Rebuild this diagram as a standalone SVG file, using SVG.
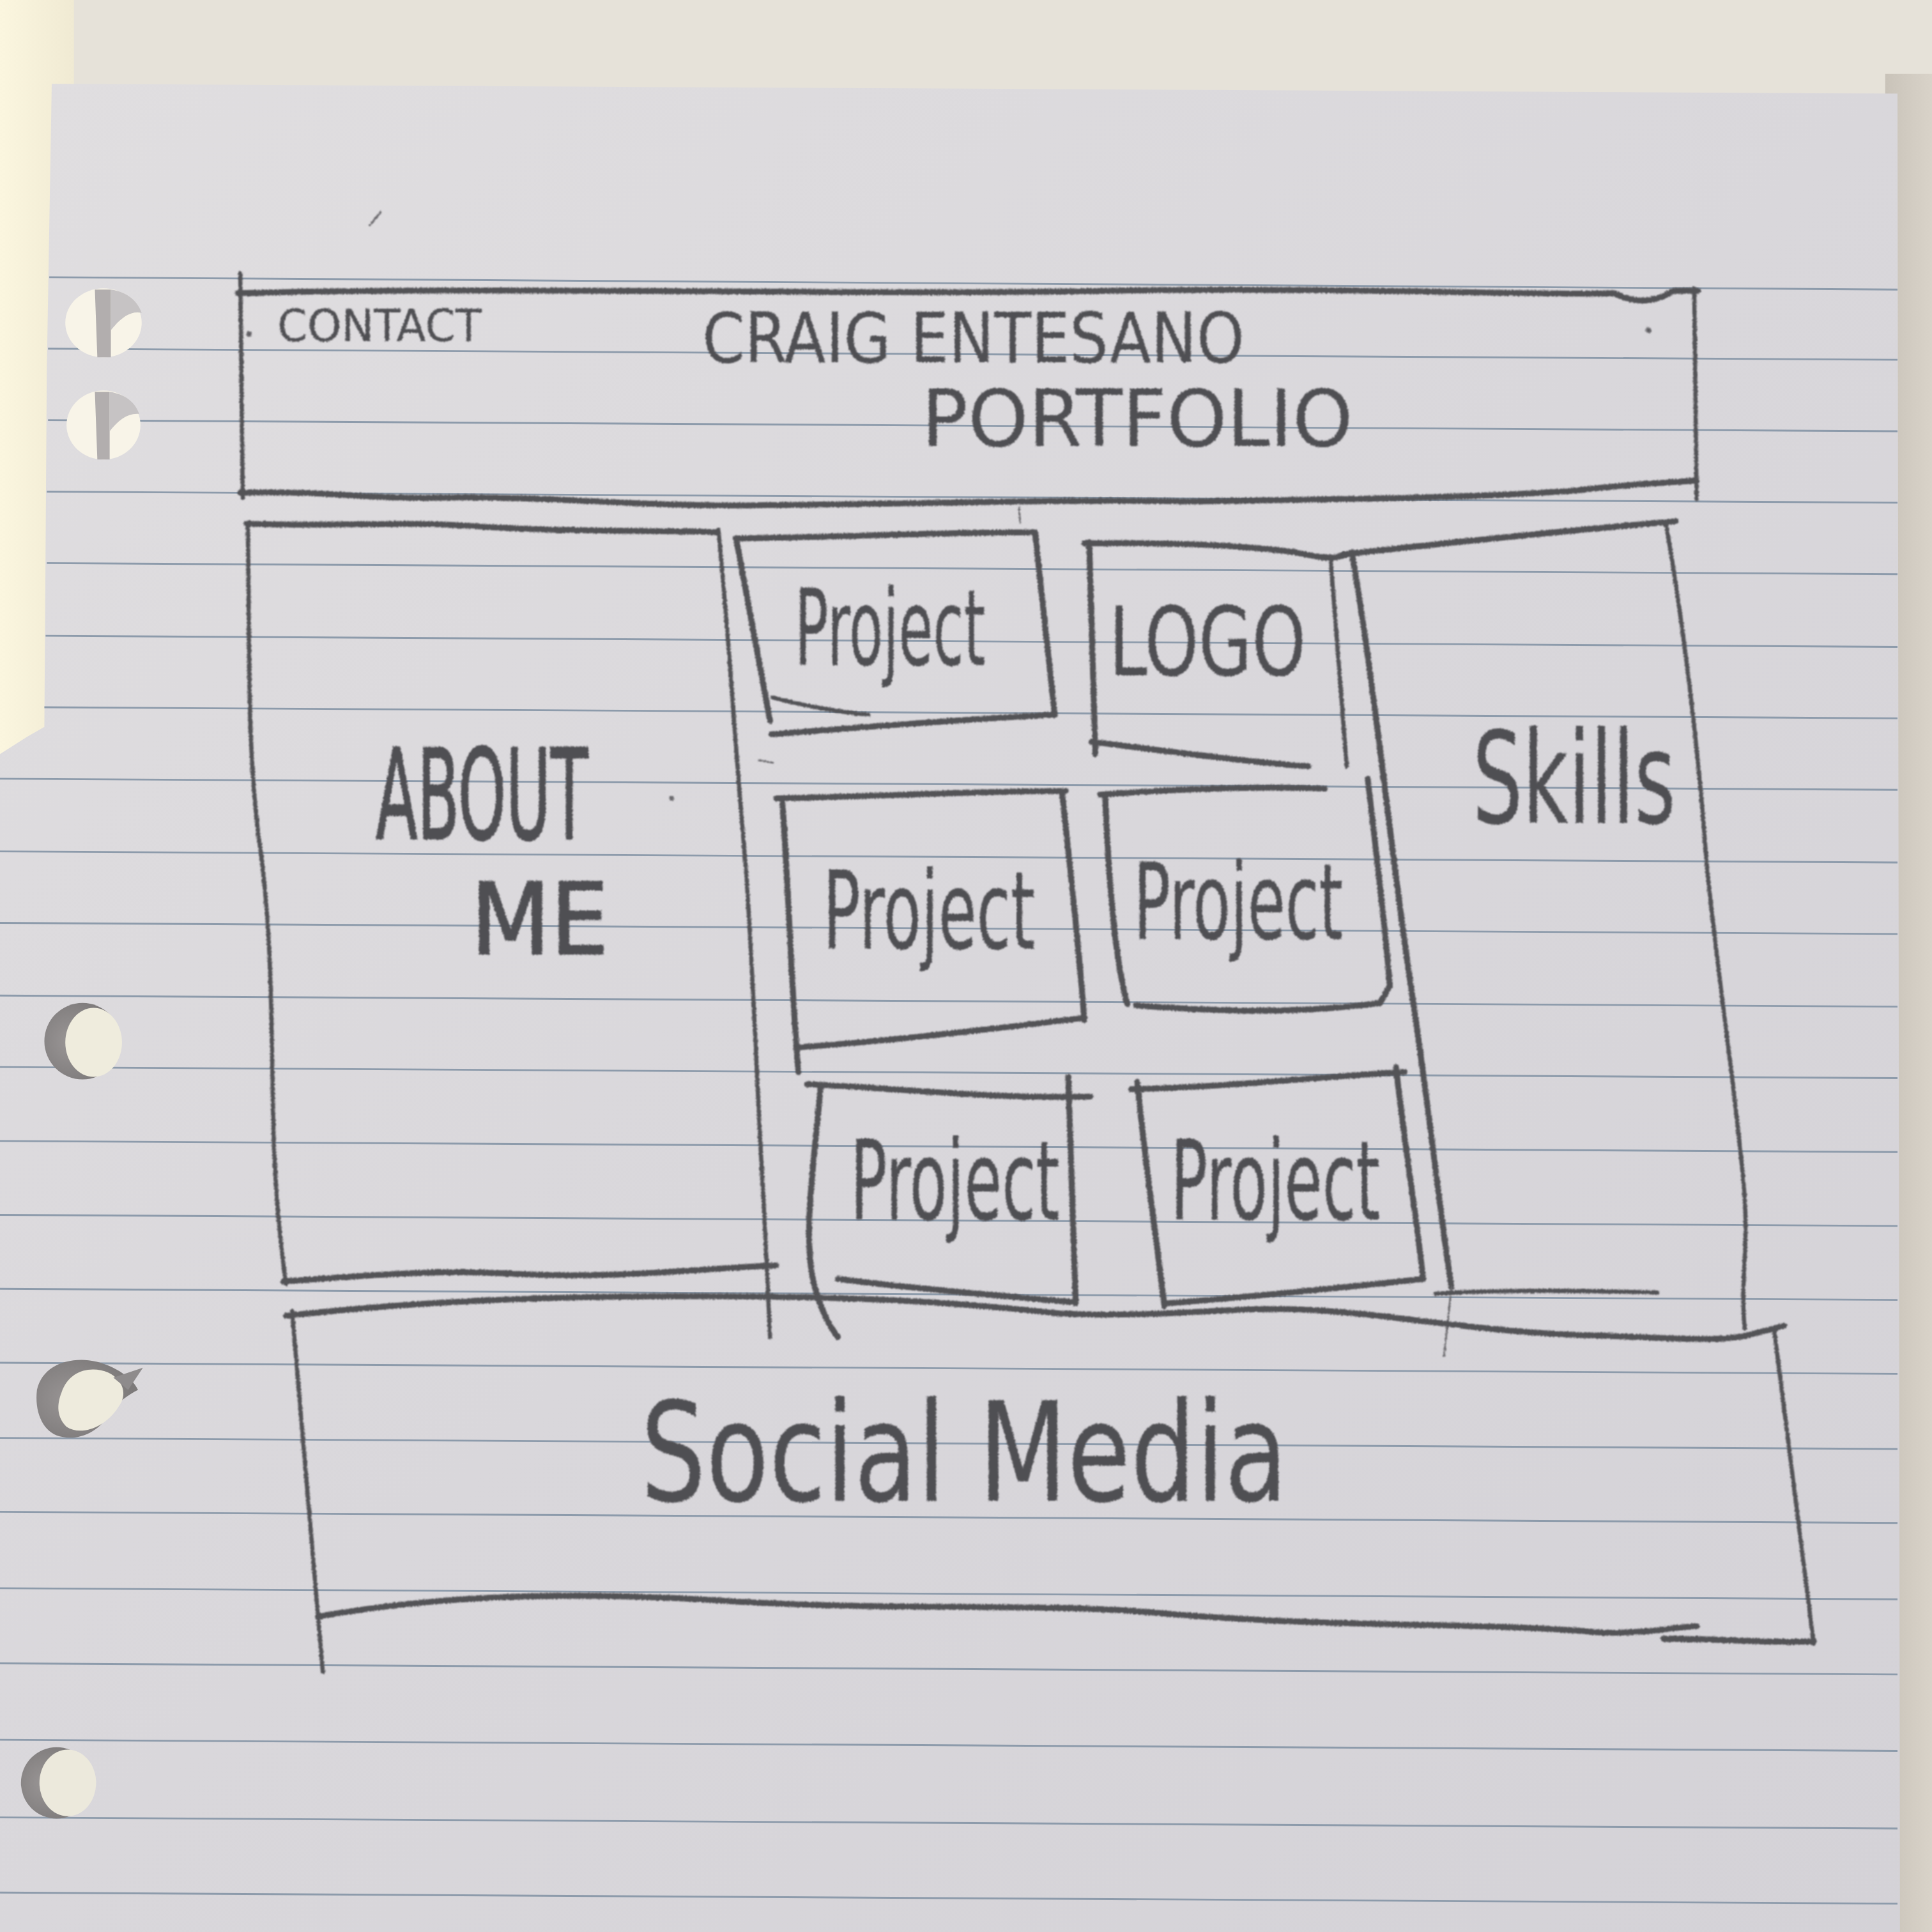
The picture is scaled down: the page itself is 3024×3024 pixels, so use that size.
<svg xmlns="http://www.w3.org/2000/svg" width="3024" height="3024" viewBox="0 0 3024 3024">
  <defs>
    <style>
      .ink { fill: none; stroke: #535256; stroke-width: 4.8; stroke-linecap: round; stroke-linejoin: round; }
      .thin { stroke-width: 3.4; }
      .faint { stroke: #6d6c70; stroke-width: 1.6; }
      .rule { stroke: #8d9bab; stroke-width: 1.5; }
      .hand { font-family: "Liberation Sans Narrow", "DejaVu Sans Condensed", "Liberation Sans", sans-serif; fill: #504f53; }
      .bold { stroke: #504f53; stroke-width: 1.2; }
    </style>
    <linearGradient id="paperShade" x1="0" y1="0" x2="1" y2="1">
      <stop offset="0" stop-color="#e0dee0"/>
      <stop offset="0.5" stop-color="#d9d7db"/>
      <stop offset="1" stop-color="#d4d2d7"/>
    </linearGradient>
    <linearGradient id="cream" x1="0" y1="0" x2="1" y2="0">
      <stop offset="0" stop-color="#fbf6df"/>
      <stop offset="1" stop-color="#f0ead3"/>
    </linearGradient>
    <linearGradient id="rightShadow" x1="0" y1="0" x2="1" y2="0">
      <stop offset="0" stop-color="#c9c3b9"/>
      <stop offset="1" stop-color="#d9d3c9"/>
    </linearGradient>
    <radialGradient id="holeShade" cx="0.35" cy="0.5" r="0.6">
      <stop offset="0" stop-color="#9a9696"/>
      <stop offset="1" stop-color="#7d7a7a"/>
    </radialGradient>
    <!-- soft, slightly uneven pencil stroke -->
    <filter id="pencil" x="-5%" y="-5%" width="110%" height="110%">
      <feTurbulence type="fractalNoise" baseFrequency="0.8" numOctaves="2" seed="4" result="noise"/>
      <feDisplacementMap in="SourceGraphic" in2="noise" scale="2.2" xChannelSelector="R" yChannelSelector="G" result="rough"/>
      <feGaussianBlur in="rough" stdDeviation="0.45"/>
    </filter>
  </defs>

  <g transform="scale(1.92857)">
    <!-- surface behind the sheet -->
    <rect x="0" y="0" width="1568" height="1568" fill="#e6e2d9"/>
    <rect x="0" y="0" width="60" height="620" fill="url(#cream)"/>
    <rect x="1530" y="60" width="38" height="1508" fill="url(#rightShadow)"/>

    <!-- sheet of lined paper -->
    <path d="M42,68 L1540,76 L1542,1568 L0,1568 L0,612 L22,598 L36,590 L38,300 Z" fill="url(#paperShade)"/>

    <!-- ruled lines -->
    <g id="rules" class="rule">
      <line x1="40" y1="225" x2="1540" y2="235"/>
      <line x1="39" y1="283" x2="1540" y2="292"/>
      <line x1="39" y1="341" x2="1540" y2="350"/>
      <line x1="38" y1="399" x2="1540" y2="408"/>
      <line x1="38" y1="457" x2="1540" y2="466"/>
      <line x1="37" y1="516" x2="1540" y2="525"/>
      <line x1="36" y1="574" x2="1540" y2="583"/>
      <line x1="0" y1="632" x2="1540" y2="641"/>
      <line x1="0" y1="691" x2="1540" y2="700"/>
      <line x1="0" y1="749" x2="1540" y2="758"/>
      <line x1="0" y1="808" x2="1540" y2="817"/>
      <line x1="0" y1="866" x2="1540" y2="875"/>
      <line x1="0" y1="926" x2="1540" y2="935"/>
      <line x1="0" y1="986" x2="1540" y2="995"/>
      <line x1="0" y1="1046" x2="1540" y2="1055"/>
      <line x1="0" y1="1106" x2="1540" y2="1115"/>
      <line x1="0" y1="1167" x2="1540" y2="1176"/>
      <line x1="0" y1="1227" x2="1540" y2="1236"/>
      <line x1="0" y1="1289" x2="1540" y2="1298"/>
      <line x1="0" y1="1350" x2="1540" y2="1359"/>
      <line x1="0" y1="1412" x2="1540" y2="1421"/>
      <line x1="0" y1="1475" x2="1540" y2="1484"/>
      <line x1="0" y1="1536" x2="1540" y2="1545"/>
    </g>

    <!-- binder holes -->
    <g id="holes">
      <ellipse cx="84" cy="262" rx="31" ry="28" fill="#f8f4e8"/>
      <path d="M77,235 L90,235 L90,290 L79,290 Z" fill="#b2aeae"/>
      <path d="M90,235 C104,237 112,245 115,254 C106,252 98,258 90,268 Z" fill="#c6c3c4"/>
      <ellipse cx="84" cy="345" rx="30" ry="28" fill="#f8f4e8"/>
      <path d="M77,318 L89,318 L89,373 L79,373 Z" fill="#b2aeae"/>
      <path d="M89,318 C102,320 110,327 113,336 C104,335 96,341 89,350 Z" fill="#c6c3c4"/>

      <circle cx="67" cy="845" r="31" fill="url(#holeShade)"/>
      <ellipse cx="76" cy="846" rx="23" ry="28" fill="#efecdd"/>

      <path d="M30,1128 C34,1110 52,1102 72,1104 C90,1106 108,1118 112,1128 C104,1132 96,1138 90,1145 C80,1165 60,1170 46,1165 C34,1160 28,1145 30,1128 Z" fill="url(#holeShade)"/>
      <path d="M50,1130 C56,1112 74,1108 88,1114 C100,1120 104,1132 96,1142 C86,1158 66,1166 54,1158 C46,1150 46,1140 50,1130 Z" fill="#eeebdd"/>
      <path d="M92,1118 L116,1110 L104,1128 Z" fill="#8e8b8c"/>

      <circle cx="46" cy="1447" r="29" fill="url(#holeShade)"/>
      <ellipse cx="55" cy="1447" rx="23" ry="27" fill="#ece9dc"/>
    </g>

    <!-- stray pencil marks -->
    <g id="marks" class="ink faint" filter="url(#pencil)">
      <path d="M300,183 L309,172"/>
      <path d="M827,412 L828,424"/>
      <path d="M616,617 L627,619"/>
      <circle cx="1338" cy="268" r="1.6" fill="#4d4c50"/>
      <circle cx="202" cy="271" r="1.6" fill="#4d4c50"/>
      <circle cx="545" cy="648" r="1.2" fill="#4d4c50"/>
    </g>

    <!-- header bar -->
    <g id="header" filter="url(#pencil)">
      <path class="ink thin" d="M195,222 L197,404"/>
      <path class="ink" d="M193,238 C400,232 700,240 900,236 C1100,233 1250,240 1310,238 C1328,247 1345,245 1358,236 L1378,236"/>
      <path class="ink thin" d="M1375,234 L1377,405"/>
      <path class="ink" d="M195,400 C260,398 300,405 350,404 C450,402 520,412 620,410 C760,409 860,405 960,407 C1100,405 1200,404 1280,398 C1320,393 1350,392 1377,390"/>
      <text class="hand" x="225" y="277" font-size="36" textLength="166" lengthAdjust="spacingAndGlyphs">CONTACT</text>
      <text class="hand" x="570" y="294" font-size="56" textLength="440" lengthAdjust="spacingAndGlyphs">CRAIG ENTESANO</text>
      <text class="hand" x="748" y="362" font-size="64" textLength="350" lengthAdjust="spacingAndGlyphs">PORTFOLIO</text>
    </g>

    <!-- about me column -->
    <g id="about" filter="url(#pencil)">
      <path class="ink" d="M200,425 C280,428 320,422 400,428 C470,432 520,430 583,432"/>
      <path class="ink thin" d="M201,424 C203,520 200,600 210,680 C222,760 220,850 222,920 C224,980 228,1010 232,1042"/>
      <path class="ink" d="M230,1040 C300,1035 360,1030 420,1034 C500,1038 560,1030 630,1027"/>
      <path class="ink thin" d="M583,430 C592,520 596,600 605,700 C612,800 615,900 620,980 C622,1020 624,1060 625,1085"/>
      <text class="hand bold" x="305" y="681" font-size="102" textLength="172" lengthAdjust="spacingAndGlyphs">ABOUT</text>
      <text class="hand bold" x="382" y="774" font-size="80" textLength="112" lengthAdjust="spacingAndGlyphs">ME</text>
    </g>

    <!-- project tile 1 -->
    <g id="project-1" filter="url(#pencil)">
      <path class="ink" d="M598,440 L625,585"/>
      <path class="ink" d="M597,437 C680,436 760,432 840,432"/>
      <path class="ink" d="M840,432 L856,580"/>
      <path class="ink" d="M626,596 C700,590 780,584 856,580"/>
      <path class="ink thin" d="M627,566 C650,572 680,578 705,580"/>
      <text class="hand" x="645" y="540" font-size="86" textLength="155" lengthAdjust="spacingAndGlyphs">Project</text>
    </g>

    <!-- logo tile -->
    <g id="logo" filter="url(#pencil)">
      <path class="ink" d="M884,440 L889,612"/>
      <path class="ink" d="M880,441 C950,440 1010,443 1050,448 C1070,452 1080,455 1092,450"/>
      <path class="ink thin" d="M1080,455 C1085,520 1090,580 1093,622"/>
      <path class="ink" d="M886,602 C950,610 1010,618 1062,622"/>
      <text class="hand" x="900" y="548" font-size="78" textLength="160" lengthAdjust="spacingAndGlyphs">LOGO</text>
    </g>

    <!-- skills column -->
    <g id="skills" filter="url(#pencil)">
      <path class="ink" d="M1097,448 C1115,550 1130,700 1145,800 C1160,900 1168,980 1178,1045"/>
      <path class="ink faint" d="M1178,1045 L1172,1100"/>
      <path class="ink" d="M1090,450 C1180,440 1280,430 1360,423"/>
      <path class="ink thin" d="M1352,424 C1365,500 1378,600 1385,700 C1395,800 1408,880 1415,960 C1420,1010 1412,1040 1416,1078"/>
      <path class="ink thin" d="M1165,1050 C1230,1046 1300,1048 1345,1049"/>
      <text class="hand" x="1195" y="668" font-size="104" textLength="165" lengthAdjust="spacingAndGlyphs">Skills</text>
    </g>

    <!-- project tile 3 -->
    <g id="project-3" filter="url(#pencil)">
      <path class="ink" d="M630,648 C720,646 790,642 865,642"/>
      <path class="ink" d="M635,652 C640,720 642,800 648,870"/>
      <path class="ink" d="M862,644 C868,700 875,760 880,828"/>
      <path class="ink" d="M880,826 C800,836 720,845 648,850"/>
      <text class="hand" x="668" y="770" font-size="88" textLength="172" lengthAdjust="spacingAndGlyphs">Project</text>
    </g>

    <!-- project tile 4 -->
    <g id="project-4" filter="url(#pencil)">
      <path class="ink" d="M893,645 C960,640 1020,638 1075,640"/>
      <path class="ink" d="M897,647 C900,720 905,780 915,815"/>
      <path class="ink" d="M1110,632 C1118,700 1125,760 1128,800 L1120,814"/>
      <path class="ink" d="M922,816 C1000,822 1060,822 1120,814"/>
      <text class="hand" x="920" y="762" font-size="86" textLength="170" lengthAdjust="spacingAndGlyphs">Project</text>
    </g>

    <!-- project tile 5 -->
    <g id="project-5" filter="url(#pencil)">
      <path class="ink" d="M655,880 C730,883 800,892 885,890"/>
      <path class="ink" d="M666,882 C660,950 652,1000 660,1040 C665,1060 672,1075 680,1085"/>
      <path class="ink" d="M867,874 L873,1058"/>
      <path class="ink" d="M680,1038 C760,1048 820,1052 873,1057"/>
      <text class="hand" x="690" y="990" font-size="90" textLength="170" lengthAdjust="spacingAndGlyphs">Project</text>
    </g>

    <!-- project tile 6 -->
    <g id="project-6" filter="url(#pencil)">
      <path class="ink" d="M918,884 C1000,882 1070,874 1140,870"/>
      <path class="ink" d="M923,878 C930,950 938,1000 945,1060"/>
      <path class="ink" d="M1133,866 C1140,930 1150,990 1155,1038"/>
      <path class="ink" d="M945,1058 C1020,1052 1090,1045 1155,1038"/>
      <text class="hand" x="950" y="990" font-size="90" textLength="170" lengthAdjust="spacingAndGlyphs">Project</text>
    </g>

    <!-- social media footer -->
    <g id="social" filter="url(#pencil)">
      <path class="ink" d="M232,1068 C320,1058 420,1052 560,1052 C680,1052 760,1055 860,1066 C940,1070 1000,1060 1060,1063 C1130,1066 1200,1082 1300,1084 C1360,1086 1400,1090 1425,1082 L1448,1076"/>
      <path class="ink thin" d="M237,1064 L262,1357"/>
      <path class="ink thin" d="M1440,1080 L1472,1334"/>
      <path class="ink" d="M258,1312 C350,1296 450,1290 600,1300 C750,1308 850,1300 950,1310 C1100,1322 1200,1316 1300,1325 C1340,1326 1360,1320 1377,1320"/>
      <path class="ink" d="M1350,1330 C1400,1330 1440,1334 1472,1332"/>
      <text class="hand" x="520" y="1218" font-size="112" textLength="525" lengthAdjust="spacingAndGlyphs">Social Media</text>
    </g>

    <g id="connectors"/>
  </g>
</svg>
